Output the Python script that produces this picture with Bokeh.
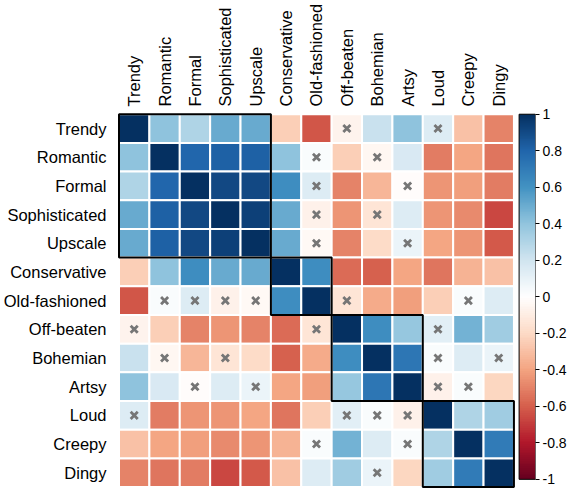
import numpy as np
from bokeh.plotting import figure
from bokeh.models import (Range1d, LinearAxis, FixedTicker, CustomJSTickFormatter,
                          LinearColorMapper, ColumnDataSource)
from bokeh.transform import linear_cmap
from bokeh.embed import file_html
from bokeh.resources import INLINE

labels = ["Trendy", "Romantic", "Formal", "Sophisticated", "Upscale", "Conservative",
          "Old-fashioned", "Off-beaten", "Bohemian", "Artsy", "Loud", "Creepy", "Dingy"]

r_trendy        = [1.00, 0.40, 0.30, 0.50, 0.50, -0.25, -0.63, -0.06, 0.22, 0.40, 0.15, -0.30, -0.50]
r_romantic      = [0.40, 1.00, 0.79, 0.82, 0.82, 0.40, 0.02, -0.25, -0.05, 0.17, -0.52, -0.40, -0.53]
r_formal        = [0.30, 0.79, 1.00, 0.90, 0.90, 0.62, 0.15, -0.50, -0.33, -0.02, -0.45, -0.42, -0.52]
r_sophisticated = [0.50, 0.82, 0.90, 1.00, 0.93, 0.50, -0.08, -0.45, -0.15, 0.15, -0.45, -0.48, -0.66]
r_upscale       = [0.50, 0.82, 0.90, 0.93, 1.00, 0.50, -0.04, -0.50, -0.20, 0.08, -0.40, -0.45, -0.62]
r_conservative  = [-0.25, 0.40, 0.62, 0.50, 0.50, 1.00, 0.62, -0.56, -0.60, -0.40, -0.53, -0.35, -0.30]
r_oldfashioned  = [-0.63, 0.02, 0.15, -0.08, -0.04, 0.62, 1.00, -0.15, -0.38, -0.42, -0.25, 0.02, 0.15]
r_offbeaten     = [-0.06, -0.25, -0.50, -0.45, -0.50, -0.56, -0.15, 1.00, 0.62, 0.38, 0.12, 0.47, 0.35]
r_bohemian      = [0.22, -0.05, -0.33, -0.15, -0.20, -0.60, -0.38, 0.62, 1.00, 0.72, 0.02, 0.15, 0.08]
r_artsy         = [0.40, 0.17, -0.02, 0.15, 0.08, -0.40, -0.42, 0.38, 0.72, 1.00, -0.08, 0.02, -0.22]
r_loud          = [0.15, -0.52, -0.45, -0.45, -0.40, -0.53, -0.25, 0.12, 0.02, -0.08, 1.00, 0.30, 0.35]
r_creepy        = [-0.30, -0.40, -0.42, -0.48, -0.45, -0.35, 0.02, 0.47, 0.15, 0.02, 0.30, 1.00, 0.70]
r_dingy         = [-0.50, -0.53, -0.52, -0.66, -0.62, -0.30, 0.15, 0.35, 0.08, -0.22, 0.35, 0.70, 1.00]

insignificant = {
    "Trendy": ["Off-beaten", "Loud"],
    "Romantic": ["Old-fashioned", "Bohemian"],
    "Formal": ["Old-fashioned", "Artsy"],
    "Sophisticated": ["Old-fashioned", "Bohemian"],
    "Upscale": ["Old-fashioned", "Artsy"],
    "Conservative": [],
    "Old-fashioned": ["Romantic", "Formal", "Sophisticated", "Upscale", "Off-beaten", "Creepy"],
    "Off-beaten": ["Trendy", "Old-fashioned", "Loud"],
    "Bohemian": ["Romantic", "Sophisticated", "Loud", "Dingy"],
    "Artsy": ["Formal", "Upscale", "Loud", "Creepy"],
    "Loud": ["Trendy", "Off-beaten", "Bohemian", "Artsy"],
    "Creepy": ["Old-fashioned", "Artsy"],
    "Dingy": ["Bohemian"],
}

cluster_sizes = [5, 2, 3, 3]
cb_ticks = [-1, -0.8, -0.6, -0.4, -0.2, 0, 0.2, 0.4, 0.6, 0.8, 1]

rows = [r_trendy, r_romantic, r_formal, r_sophisticated, r_upscale, r_conservative,
        r_oldfashioned, r_offbeaten, r_bohemian, r_artsy, r_loud, r_creepy, r_dingy]

# corrplot-style RdBu ramp
anchors = ["#67001F", "#B2182B", "#D6604D", "#F4A582", "#FDDBC7", "#FFFFFF",
           "#D1E5F0", "#92C5DE", "#4393C3", "#2166AC", "#053061"]
def ramp(cols, n):
    rgb = np.array([[int(c[i:i + 2], 16) for i in (1, 3, 5)] for c in cols], dtype=float)
    pos = np.linspace(0, 1, len(cols))
    t = np.linspace(0, 1, n)
    out = np.stack([np.interp(t, pos, rgb[:, k]) for k in range(3)], axis=1)
    return ["#%02x%02x%02x" % tuple(int(round(v)) for v in row) for row in out]
palette = ramp(anchors, 200)
mapper = LinearColorMapper(palette=palette, low=-1, high=1)

n = len(labels)
xs, ys, vals = [], [], []
cx, cy = [], []
for i, lab in enumerate(labels):
    for j, lab2 in enumerate(labels):
        xs.append(j + 0.5)
        ys.append(n - i - 0.5)
        vals.append(rows[i][j])
        if lab2 in insignificant[lab]:
            cx.append(j + 0.5)
            cy.append(n - i - 0.5)

FONT = "Liberation Sans"
pad_lo, pad_hi = 0.05, 0.06
gap_u, bar_u = 0.17, 0.54
cb_bottom = 0.27   # colorbar bottom in grid units (kept above the edge so "-1" stays visible)

p = figure(width=569, height=488, output_backend="svg", toolbar_location=None,
           x_range=Range1d(-pad_lo, n + gap_u + bar_u), y_range=Range1d(-pad_lo, n + pad_hi),
           x_axis_location="above", min_border_left=0, min_border_right=0,
           min_border_top=0, min_border_bottom=0)
p.outline_line_color = None
p.grid.visible = False
cb_len = n - cb_bottom
cb_lo = -1 + 2 * (-pad_lo - cb_bottom) / cb_len
cb_hi = -1 + 2 * (n + pad_hi - cb_bottom) / cb_len
p.extra_y_ranges = {"cb": Range1d(cb_lo, cb_hi)}

src = ColumnDataSource(dict(x=xs, y=ys, r=vals))
p.rect("x", "y", width=1, height=1, source=src,
       fill_color=linear_cmap("r", palette, -1, 1), line_color="white", line_width=2)
p.scatter(cx, cy, marker="x", size=10, line_color="#767676", line_width=2.8)

# cluster boxes
starts = np.cumsum([0] + cluster_sizes[:-1])
lefts = [float(s) for s in starts]
rights = [float(s + c) for s, c in zip(starts, cluster_sizes)]
p.quad(left=lefts, right=rights, top=[n - a for a in lefts], bottom=[n - b for b in rights],
       fill_color=None, line_color="black", line_width=2)

# color bar
grad = np.linspace(-1, 1, 200).reshape(200, 1)
p.image(image=[grad], x=n + gap_u, y=-1, dw=bar_u, dh=2, color_mapper=mapper, y_range_name="cb")
p.quad(left=[n + gap_u], right=[n + gap_u + bar_u], bottom=[-1], top=[1],
       fill_color=None, line_color="black", line_width=1, y_range_name="cb")

ax = p.xaxis[0]
ax.ticker = FixedTicker(ticks=[j + 0.5 for j in range(n)])
ax.formatter = CustomJSTickFormatter(args=dict(labels=labels), code="return labels[Math.floor(tick)]")
ay = p.yaxis[0]
ay.ticker = FixedTicker(ticks=[j + 0.5 for j in range(n)])
ay.formatter = CustomJSTickFormatter(args=dict(labels=labels),
                                     code="return labels[labels.length - 1 - Math.floor(tick)]")
for a in (ax, ay):
    a.axis_line_color = None
    a.major_tick_line_color = None
    a.minor_tick_line_color = None
    a.major_tick_out = 0
    a.major_tick_in = 0
    a.major_label_text_font = FONT
    a.major_label_text_font_size = "16.5px"
    a.major_label_text_color = "black"
ax.major_label_orientation = np.pi / 2
ax.major_label_standoff = 6
ay.major_label_standoff = 11

ar = LinearAxis(y_range_name="cb", ticker=FixedTicker(ticks=cb_ticks),
                formatter=CustomJSTickFormatter(code="return (Math.round(tick*10)/10).toString()"))
ar.axis_line_color = None
ar.minor_tick_line_color = None
ar.major_tick_in = 0
ar.major_tick_out = 4
ar.major_tick_line_color = "black"
ar.major_label_standoff = 3
ar.major_label_text_font = FONT
ar.major_label_text_font_size = "14px"
ar.major_label_text_color = "black"
p.add_layout(ar, "right")

open("out.html", "w").write(file_html(p, INLINE))
